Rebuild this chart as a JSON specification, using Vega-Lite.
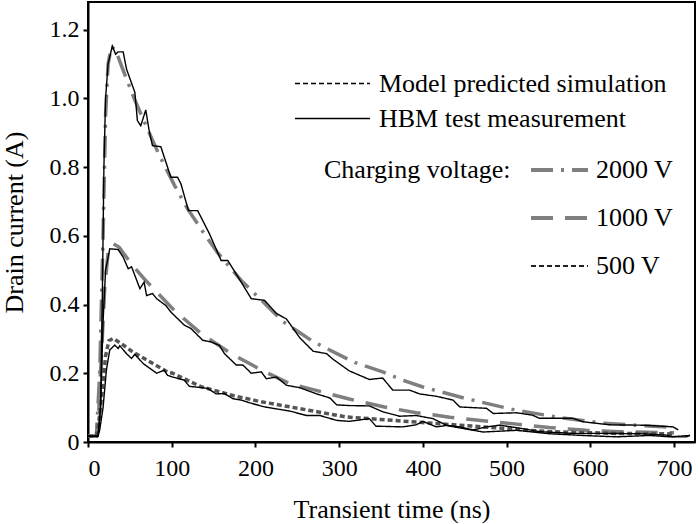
{
  "$schema": "https://vega.github.io/schema/vega-lite/v6.json",
  "width": 607,
  "height": 440,
  "autosize": {"type": "none"},
  "padding": {"left": 88, "top": 2, "right": 5, "bottom": 82},
  "background": "white",
  "config": {
    "view": {"stroke": "black", "strokeWidth": 2},
    "axis": {
      "grid": false,
      "domainColor": "black",
      "domainWidth": 2,
      "tickColor": "black",
      "tickWidth": 2,
      "tickSize": 5,
      "labelFont": "Liberation Serif",
      "labelFontSize": 24,
      "labelColor": "black",
      "titleFont": "Liberation Serif",
      "titleFontSize": 26,
      "titleFontWeight": "normal",
      "titleColor": "black"
    },
    "legend": {
      "labelFont": "Liberation Serif",
      "labelFontSize": 26,
      "labelColor": "black",
      "labelLimit": 0,
      "titleLimit": 0,
      "titleFont": "Liberation Serif",
      "titleFontSize": 26,
      "titleFontWeight": "normal",
      "titleColor": "black",
      "rowPadding": 0,
      "padding": 0
    }
  },
  "datasets": {
    "curves": [
      {"t": 0, "i": 0.017, "v": "2000 V", "kind": "Model predicted simulation"},
      {"t": 10, "i": 0.017, "v": "2000 V", "kind": "Model predicted simulation"},
      {"t": 14, "i": 0.2, "v": "2000 V", "kind": "Model predicted simulation"},
      {"t": 18, "i": 0.6, "v": "2000 V", "kind": "Model predicted simulation"},
      {"t": 21, "i": 0.95, "v": "2000 V", "kind": "Model predicted simulation"},
      {"t": 24, "i": 1.1, "v": "2000 V", "kind": "Model predicted simulation"},
      {"t": 28, "i": 1.15, "v": "2000 V", "kind": "Model predicted simulation"},
      {"t": 33, "i": 1.14, "v": "2000 V", "kind": "Model predicted simulation"},
      {"t": 40, "i": 1.094, "v": "2000 V", "kind": "Model predicted simulation"},
      {"t": 55, "i": 1.0, "v": "2000 V", "kind": "Model predicted simulation"},
      {"t": 73, "i": 0.9, "v": "2000 V", "kind": "Model predicted simulation"},
      {"t": 85, "i": 0.835, "v": "2000 V", "kind": "Model predicted simulation"},
      {"t": 103, "i": 0.748, "v": "2000 V", "kind": "Model predicted simulation"},
      {"t": 119, "i": 0.678, "v": "2000 V", "kind": "Model predicted simulation"},
      {"t": 141, "i": 0.598, "v": "2000 V", "kind": "Model predicted simulation"},
      {"t": 155, "i": 0.55, "v": "2000 V", "kind": "Model predicted simulation"},
      {"t": 183, "i": 0.47, "v": "2000 V", "kind": "Model predicted simulation"},
      {"t": 201, "i": 0.427, "v": "2000 V", "kind": "Model predicted simulation"},
      {"t": 233, "i": 0.35, "v": "2000 V", "kind": "Model predicted simulation"},
      {"t": 253, "i": 0.318, "v": "2000 V", "kind": "Model predicted simulation"},
      {"t": 269, "i": 0.292, "v": "2000 V", "kind": "Model predicted simulation"},
      {"t": 308, "i": 0.244, "v": "2000 V", "kind": "Model predicted simulation"},
      {"t": 320, "i": 0.23, "v": "2000 V", "kind": "Model predicted simulation"},
      {"t": 352, "i": 0.204, "v": "2000 V", "kind": "Model predicted simulation"},
      {"t": 376, "i": 0.18, "v": "2000 V", "kind": "Model predicted simulation"},
      {"t": 400, "i": 0.16, "v": "2000 V", "kind": "Model predicted simulation"},
      {"t": 452, "i": 0.126, "v": "2000 V", "kind": "Model predicted simulation"},
      {"t": 512, "i": 0.092, "v": "2000 V", "kind": "Model predicted simulation"},
      {"t": 567, "i": 0.07, "v": "2000 V", "kind": "Model predicted simulation"},
      {"t": 615, "i": 0.055, "v": "2000 V", "kind": "Model predicted simulation"},
      {"t": 687, "i": 0.044, "v": "2000 V", "kind": "Model predicted simulation"},
      {"t": 700, "i": 0.043, "v": "2000 V", "kind": "Model predicted simulation"},

      {"t": 0, "i": 0.017, "v": "1000 V", "kind": "Model predicted simulation"},
      {"t": 10, "i": 0.017, "v": "1000 V", "kind": "Model predicted simulation"},
      {"t": 13, "i": 0.1, "v": "1000 V", "kind": "Model predicted simulation"},
      {"t": 17, "i": 0.3, "v": "1000 V", "kind": "Model predicted simulation"},
      {"t": 20, "i": 0.45, "v": "1000 V", "kind": "Model predicted simulation"},
      {"t": 24, "i": 0.55, "v": "1000 V", "kind": "Model predicted simulation"},
      {"t": 29, "i": 0.578, "v": "1000 V", "kind": "Model predicted simulation"},
      {"t": 37, "i": 0.567, "v": "1000 V", "kind": "Model predicted simulation"},
      {"t": 53, "i": 0.514, "v": "1000 V", "kind": "Model predicted simulation"},
      {"t": 67, "i": 0.475, "v": "1000 V", "kind": "Model predicted simulation"},
      {"t": 103, "i": 0.383, "v": "1000 V", "kind": "Model predicted simulation"},
      {"t": 135, "i": 0.316, "v": "1000 V", "kind": "Model predicted simulation"},
      {"t": 171, "i": 0.257, "v": "1000 V", "kind": "Model predicted simulation"},
      {"t": 209, "i": 0.207, "v": "1000 V", "kind": "Model predicted simulation"},
      {"t": 241, "i": 0.17, "v": "1000 V", "kind": "Model predicted simulation"},
      {"t": 312, "i": 0.125, "v": "1000 V", "kind": "Model predicted simulation"},
      {"t": 354, "i": 0.102, "v": "1000 V", "kind": "Model predicted simulation"},
      {"t": 392, "i": 0.085, "v": "1000 V", "kind": "Model predicted simulation"},
      {"t": 416, "i": 0.078, "v": "1000 V", "kind": "Model predicted simulation"},
      {"t": 432, "i": 0.072, "v": "1000 V", "kind": "Model predicted simulation"},
      {"t": 472, "i": 0.062, "v": "1000 V", "kind": "Model predicted simulation"},
      {"t": 512, "i": 0.052, "v": "1000 V", "kind": "Model predicted simulation"},
      {"t": 551, "i": 0.042, "v": "1000 V", "kind": "Model predicted simulation"},
      {"t": 595, "i": 0.034, "v": "1000 V", "kind": "Model predicted simulation"},
      {"t": 635, "i": 0.03, "v": "1000 V", "kind": "Model predicted simulation"},
      {"t": 679, "i": 0.028, "v": "1000 V", "kind": "Model predicted simulation"},
      {"t": 700, "i": 0.027, "v": "1000 V", "kind": "Model predicted simulation"},

      {"t": 0, "i": 0.017, "v": "500 V", "kind": "Model predicted simulation"},
      {"t": 10, "i": 0.017, "v": "500 V", "kind": "Model predicted simulation"},
      {"t": 13, "i": 0.06, "v": "500 V", "kind": "Model predicted simulation"},
      {"t": 17, "i": 0.15, "v": "500 V", "kind": "Model predicted simulation"},
      {"t": 21, "i": 0.25, "v": "500 V", "kind": "Model predicted simulation"},
      {"t": 25, "i": 0.295, "v": "500 V", "kind": "Model predicted simulation"},
      {"t": 30, "i": 0.301, "v": "500 V", "kind": "Model predicted simulation"},
      {"t": 40, "i": 0.286, "v": "500 V", "kind": "Model predicted simulation"},
      {"t": 54, "i": 0.261, "v": "500 V", "kind": "Model predicted simulation"},
      {"t": 60, "i": 0.253, "v": "500 V", "kind": "Model predicted simulation"},
      {"t": 95, "i": 0.204, "v": "500 V", "kind": "Model predicted simulation"},
      {"t": 101, "i": 0.2, "v": "500 V", "kind": "Model predicted simulation"},
      {"t": 135, "i": 0.161, "v": "500 V", "kind": "Model predicted simulation"},
      {"t": 175, "i": 0.134, "v": "500 V", "kind": "Model predicted simulation"},
      {"t": 207, "i": 0.117, "v": "500 V", "kind": "Model predicted simulation"},
      {"t": 253, "i": 0.097, "v": "500 V", "kind": "Model predicted simulation"},
      {"t": 308, "i": 0.073, "v": "500 V", "kind": "Model predicted simulation"},
      {"t": 392, "i": 0.058, "v": "500 V", "kind": "Model predicted simulation"},
      {"t": 472, "i": 0.044, "v": "500 V", "kind": "Model predicted simulation"},
      {"t": 551, "i": 0.03, "v": "500 V", "kind": "Model predicted simulation"},
      {"t": 631, "i": 0.025, "v": "500 V", "kind": "Model predicted simulation"},
      {"t": 691, "i": 0.024, "v": "500 V", "kind": "Model predicted simulation"},
      {"t": 700, "i": 0.023, "v": "500 V", "kind": "Model predicted simulation"},

      {"t": 0, "i": 0.017, "v": "2000 V", "kind": "HBM test measurement"},
      {"t": 12, "i": 0.017, "v": "2000 V", "kind": "HBM test measurement"},
      {"t": 15, "i": 0.1, "v": "2000 V", "kind": "HBM test measurement"},
      {"t": 17, "i": 0.4, "v": "2000 V", "kind": "HBM test measurement"},
      {"t": 19, "i": 0.8, "v": "2000 V", "kind": "HBM test measurement"},
      {"t": 21, "i": 1.0, "v": "2000 V", "kind": "HBM test measurement"},
      {"t": 24, "i": 1.1, "v": "2000 V", "kind": "HBM test measurement"},
      {"t": 29, "i": 1.152, "v": "2000 V", "kind": "HBM test measurement"},
      {"t": 33, "i": 1.128, "v": "2000 V", "kind": "HBM test measurement"},
      {"t": 36, "i": 1.135, "v": "2000 V", "kind": "HBM test measurement"},
      {"t": 42, "i": 1.135, "v": "2000 V", "kind": "HBM test measurement"},
      {"t": 46, "i": 1.085, "v": "2000 V", "kind": "HBM test measurement"},
      {"t": 56, "i": 1.017, "v": "2000 V", "kind": "HBM test measurement"},
      {"t": 59, "i": 0.935, "v": "2000 V", "kind": "HBM test measurement"},
      {"t": 63, "i": 0.92, "v": "2000 V", "kind": "HBM test measurement"},
      {"t": 69, "i": 0.966, "v": "2000 V", "kind": "HBM test measurement"},
      {"t": 73, "i": 0.906, "v": "2000 V", "kind": "HBM test measurement"},
      {"t": 77, "i": 0.862, "v": "2000 V", "kind": "HBM test measurement"},
      {"t": 87, "i": 0.859, "v": "2000 V", "kind": "HBM test measurement"},
      {"t": 99, "i": 0.77, "v": "2000 V", "kind": "HBM test measurement"},
      {"t": 107, "i": 0.77, "v": "2000 V", "kind": "HBM test measurement"},
      {"t": 111, "i": 0.751, "v": "2000 V", "kind": "HBM test measurement"},
      {"t": 120, "i": 0.673, "v": "2000 V", "kind": "HBM test measurement"},
      {"t": 131, "i": 0.673, "v": "2000 V", "kind": "HBM test measurement"},
      {"t": 145, "i": 0.606, "v": "2000 V", "kind": "HBM test measurement"},
      {"t": 159, "i": 0.528, "v": "2000 V", "kind": "HBM test measurement"},
      {"t": 167, "i": 0.528, "v": "2000 V", "kind": "HBM test measurement"},
      {"t": 183, "i": 0.465, "v": "2000 V", "kind": "HBM test measurement"},
      {"t": 195, "i": 0.417, "v": "2000 V", "kind": "HBM test measurement"},
      {"t": 211, "i": 0.412, "v": "2000 V", "kind": "HBM test measurement"},
      {"t": 225, "i": 0.374, "v": "2000 V", "kind": "HBM test measurement"},
      {"t": 237, "i": 0.358, "v": "2000 V", "kind": "HBM test measurement"},
      {"t": 253, "i": 0.303, "v": "2000 V", "kind": "HBM test measurement"},
      {"t": 269, "i": 0.264, "v": "2000 V", "kind": "HBM test measurement"},
      {"t": 285, "i": 0.257, "v": "2000 V", "kind": "HBM test measurement"},
      {"t": 292, "i": 0.242, "v": "2000 V", "kind": "HBM test measurement"},
      {"t": 312, "i": 0.207, "v": "2000 V", "kind": "HBM test measurement"},
      {"t": 336, "i": 0.182, "v": "2000 V", "kind": "HBM test measurement"},
      {"t": 352, "i": 0.186, "v": "2000 V", "kind": "HBM test measurement"},
      {"t": 364, "i": 0.151, "v": "2000 V", "kind": "HBM test measurement"},
      {"t": 384, "i": 0.151, "v": "2000 V", "kind": "HBM test measurement"},
      {"t": 396, "i": 0.14, "v": "2000 V", "kind": "HBM test measurement"},
      {"t": 416, "i": 0.133, "v": "2000 V", "kind": "HBM test measurement"},
      {"t": 436, "i": 0.122, "v": "2000 V", "kind": "HBM test measurement"},
      {"t": 444, "i": 0.102, "v": "2000 V", "kind": "HBM test measurement"},
      {"t": 476, "i": 0.098, "v": "2000 V", "kind": "HBM test measurement"},
      {"t": 484, "i": 0.083, "v": "2000 V", "kind": "HBM test measurement"},
      {"t": 512, "i": 0.085, "v": "2000 V", "kind": "HBM test measurement"},
      {"t": 531, "i": 0.078, "v": "2000 V", "kind": "HBM test measurement"},
      {"t": 539, "i": 0.069, "v": "2000 V", "kind": "HBM test measurement"},
      {"t": 579, "i": 0.069, "v": "2000 V", "kind": "HBM test measurement"},
      {"t": 591, "i": 0.059, "v": "2000 V", "kind": "HBM test measurement"},
      {"t": 623, "i": 0.05, "v": "2000 V", "kind": "HBM test measurement"},
      {"t": 659, "i": 0.049, "v": "2000 V", "kind": "HBM test measurement"},
      {"t": 671, "i": 0.048, "v": "2000 V", "kind": "HBM test measurement"},
      {"t": 699, "i": 0.044, "v": "2000 V", "kind": "HBM test measurement"},
      {"t": 705, "i": 0.035, "v": "2000 V", "kind": "HBM test measurement"},

      {"t": 0, "i": 0.017, "v": "1000 V", "kind": "HBM test measurement"},
      {"t": 12, "i": 0.017, "v": "1000 V", "kind": "HBM test measurement"},
      {"t": 15, "i": 0.1, "v": "1000 V", "kind": "HBM test measurement"},
      {"t": 18, "i": 0.35, "v": "1000 V", "kind": "HBM test measurement"},
      {"t": 21, "i": 0.5, "v": "1000 V", "kind": "HBM test measurement"},
      {"t": 26, "i": 0.562, "v": "1000 V", "kind": "HBM test measurement"},
      {"t": 36, "i": 0.56, "v": "1000 V", "kind": "HBM test measurement"},
      {"t": 42, "i": 0.538, "v": "1000 V", "kind": "HBM test measurement"},
      {"t": 48, "i": 0.504, "v": "1000 V", "kind": "HBM test measurement"},
      {"t": 52, "i": 0.51, "v": "1000 V", "kind": "HBM test measurement"},
      {"t": 62, "i": 0.446, "v": "1000 V", "kind": "HBM test measurement"},
      {"t": 67, "i": 0.465, "v": "1000 V", "kind": "HBM test measurement"},
      {"t": 70, "i": 0.426, "v": "1000 V", "kind": "HBM test measurement"},
      {"t": 77, "i": 0.432, "v": "1000 V", "kind": "HBM test measurement"},
      {"t": 82, "i": 0.417, "v": "1000 V", "kind": "HBM test measurement"},
      {"t": 93, "i": 0.397, "v": "1000 V", "kind": "HBM test measurement"},
      {"t": 99, "i": 0.378, "v": "1000 V", "kind": "HBM test measurement"},
      {"t": 115, "i": 0.34, "v": "1000 V", "kind": "HBM test measurement"},
      {"t": 123, "i": 0.33, "v": "1000 V", "kind": "HBM test measurement"},
      {"t": 137, "i": 0.296, "v": "1000 V", "kind": "HBM test measurement"},
      {"t": 147, "i": 0.291, "v": "1000 V", "kind": "HBM test measurement"},
      {"t": 157, "i": 0.281, "v": "1000 V", "kind": "HBM test measurement"},
      {"t": 163, "i": 0.257, "v": "1000 V", "kind": "HBM test measurement"},
      {"t": 177, "i": 0.224, "v": "1000 V", "kind": "HBM test measurement"},
      {"t": 185, "i": 0.224, "v": "1000 V", "kind": "HBM test measurement"},
      {"t": 195, "i": 0.2, "v": "1000 V", "kind": "HBM test measurement"},
      {"t": 207, "i": 0.204, "v": "1000 V", "kind": "HBM test measurement"},
      {"t": 213, "i": 0.184, "v": "1000 V", "kind": "HBM test measurement"},
      {"t": 225, "i": 0.189, "v": "1000 V", "kind": "HBM test measurement"},
      {"t": 237, "i": 0.165, "v": "1000 V", "kind": "HBM test measurement"},
      {"t": 253, "i": 0.158, "v": "1000 V", "kind": "HBM test measurement"},
      {"t": 273, "i": 0.14, "v": "1000 V", "kind": "HBM test measurement"},
      {"t": 289, "i": 0.128, "v": "1000 V", "kind": "HBM test measurement"},
      {"t": 297, "i": 0.108, "v": "1000 V", "kind": "HBM test measurement"},
      {"t": 312, "i": 0.106, "v": "1000 V", "kind": "HBM test measurement"},
      {"t": 336, "i": 0.105, "v": "1000 V", "kind": "HBM test measurement"},
      {"t": 352, "i": 0.088, "v": "1000 V", "kind": "HBM test measurement"},
      {"t": 372, "i": 0.075, "v": "1000 V", "kind": "HBM test measurement"},
      {"t": 392, "i": 0.077, "v": "1000 V", "kind": "HBM test measurement"},
      {"t": 412, "i": 0.068, "v": "1000 V", "kind": "HBM test measurement"},
      {"t": 428, "i": 0.049, "v": "1000 V", "kind": "HBM test measurement"},
      {"t": 444, "i": 0.044, "v": "1000 V", "kind": "HBM test measurement"},
      {"t": 460, "i": 0.035, "v": "1000 V", "kind": "HBM test measurement"},
      {"t": 476, "i": 0.044, "v": "1000 V", "kind": "HBM test measurement"},
      {"t": 492, "i": 0.049, "v": "1000 V", "kind": "HBM test measurement"},
      {"t": 516, "i": 0.04, "v": "1000 V", "kind": "HBM test measurement"},
      {"t": 540, "i": 0.03, "v": "1000 V", "kind": "HBM test measurement"},
      {"t": 580, "i": 0.025, "v": "1000 V", "kind": "HBM test measurement"},
      {"t": 620, "i": 0.025, "v": "1000 V", "kind": "HBM test measurement"},
      {"t": 660, "i": 0.024, "v": "1000 V", "kind": "HBM test measurement"},
      {"t": 691, "i": 0.02, "v": "1000 V", "kind": "HBM test measurement"},
      {"t": 699, "i": 0.015, "v": "1000 V", "kind": "HBM test measurement"},
      {"t": 715, "i": 0.015, "v": "1000 V", "kind": "HBM test measurement"},
      {"t": 719, "i": 0.02, "v": "1000 V", "kind": "HBM test measurement"},

      {"t": 0, "i": 0.017, "v": "500 V", "kind": "HBM test measurement"},
      {"t": 12, "i": 0.017, "v": "500 V", "kind": "HBM test measurement"},
      {"t": 14, "i": 0.035, "v": "500 V", "kind": "HBM test measurement"},
      {"t": 18, "i": 0.1, "v": "500 V", "kind": "HBM test measurement"},
      {"t": 22, "i": 0.21, "v": "500 V", "kind": "HBM test measurement"},
      {"t": 26, "i": 0.268, "v": "500 V", "kind": "HBM test measurement"},
      {"t": 32, "i": 0.282, "v": "500 V", "kind": "HBM test measurement"},
      {"t": 36, "i": 0.272, "v": "500 V", "kind": "HBM test measurement"},
      {"t": 38, "i": 0.28, "v": "500 V", "kind": "HBM test measurement"},
      {"t": 46, "i": 0.257, "v": "500 V", "kind": "HBM test measurement"},
      {"t": 52, "i": 0.243, "v": "500 V", "kind": "HBM test measurement"},
      {"t": 56, "i": 0.255, "v": "500 V", "kind": "HBM test measurement"},
      {"t": 66, "i": 0.228, "v": "500 V", "kind": "HBM test measurement"},
      {"t": 82, "i": 0.2, "v": "500 V", "kind": "HBM test measurement"},
      {"t": 91, "i": 0.209, "v": "500 V", "kind": "HBM test measurement"},
      {"t": 95, "i": 0.194, "v": "500 V", "kind": "HBM test measurement"},
      {"t": 101, "i": 0.189, "v": "500 V", "kind": "HBM test measurement"},
      {"t": 115, "i": 0.18, "v": "500 V", "kind": "HBM test measurement"},
      {"t": 121, "i": 0.162, "v": "500 V", "kind": "HBM test measurement"},
      {"t": 143, "i": 0.156, "v": "500 V", "kind": "HBM test measurement"},
      {"t": 153, "i": 0.14, "v": "500 V", "kind": "HBM test measurement"},
      {"t": 163, "i": 0.141, "v": "500 V", "kind": "HBM test measurement"},
      {"t": 173, "i": 0.126, "v": "500 V", "kind": "HBM test measurement"},
      {"t": 183, "i": 0.122, "v": "500 V", "kind": "HBM test measurement"},
      {"t": 193, "i": 0.114, "v": "500 V", "kind": "HBM test measurement"},
      {"t": 211, "i": 0.102, "v": "500 V", "kind": "HBM test measurement"},
      {"t": 241, "i": 0.09, "v": "500 V", "kind": "HBM test measurement"},
      {"t": 261, "i": 0.077, "v": "500 V", "kind": "HBM test measurement"},
      {"t": 277, "i": 0.077, "v": "500 V", "kind": "HBM test measurement"},
      {"t": 297, "i": 0.063, "v": "500 V", "kind": "HBM test measurement"},
      {"t": 312, "i": 0.06, "v": "500 V", "kind": "HBM test measurement"},
      {"t": 336, "i": 0.068, "v": "500 V", "kind": "HBM test measurement"},
      {"t": 344, "i": 0.046, "v": "500 V", "kind": "HBM test measurement"},
      {"t": 376, "i": 0.044, "v": "500 V", "kind": "HBM test measurement"},
      {"t": 392, "i": 0.05, "v": "500 V", "kind": "HBM test measurement"},
      {"t": 400, "i": 0.06, "v": "500 V", "kind": "HBM test measurement"},
      {"t": 416, "i": 0.044, "v": "500 V", "kind": "HBM test measurement"},
      {"t": 428, "i": 0.048, "v": "500 V", "kind": "HBM test measurement"},
      {"t": 472, "i": 0.029, "v": "500 V", "kind": "HBM test measurement"},
      {"t": 512, "i": 0.034, "v": "500 V", "kind": "HBM test measurement"},
      {"t": 551, "i": 0.024, "v": "500 V", "kind": "HBM test measurement"},
      {"t": 591, "i": 0.019, "v": "500 V", "kind": "HBM test measurement"},
      {"t": 631, "i": 0.015, "v": "500 V", "kind": "HBM test measurement"},
      {"t": 671, "i": 0.019, "v": "500 V", "kind": "HBM test measurement"},
      {"t": 695, "i": 0.015, "v": "500 V", "kind": "HBM test measurement"},
      {"t": 719, "i": 0.019, "v": "500 V", "kind": "HBM test measurement"}
    ]
  },
  "data": {"name": "curves"},
  "encoding": {
    "x": {
      "field": "t",
      "type": "quantitative",
      "scale": {"domain": [0, 725], "nice": false},
      "axis": {
        "title": "Transient time (ns)",
        "values": [0, 100, 200, 300, 400, 500, 600, 700],
        "labelPadding": 9,
        "titlePadding": 16
      }
    },
    "y": {
      "field": "i",
      "type": "quantitative",
      "scale": {"domain": [0, 1.28], "nice": false},
      "axis": {
        "title": "Drain current (A)",
        "values": [0, 0.2, 0.4, 0.6, 0.8, 1.0, 1.2],
        "labelExpr": "datum.value == 0 ? '0' : format(datum.value, '.1f')",
        "labelPadding": 4,
        "titlePadding": 22
      }
    }
  },
  "layer": [
    {
      "transform": [{"filter": "datum.kind == 'Model predicted simulation'"}],
      "mark": {"type": "line", "strokeWidth": 3.5, "strokeCap": "butt"},
      "encoding": {
        "color": {
          "field": "v",
          "type": "nominal",
          "scale": {"domain": ["2000 V", "1000 V", "500 V"], "range": ["#7f7f7f", "#7f7f7f", "#555555"]},
          "legend": null
        },
        "strokeDash": {
          "field": "v",
          "type": "nominal",
          "scale": {"domain": ["2000 V", "1000 V", "500 V"], "range": [[22, 8, 3, 8], [22, 12], [5, 3]]},
          "legend": {
            "title": "Charging voltage:",
            "titleOrient": "left",
            "titleAnchor": "start",
            "titleBaseline": "line-top",
            "titleLineHeight": 48,
            "titlePadding": 20,
            "orient": "none",
            "legendX": 236,
            "legendY": 144,
            "symbolType": "stroke",
            "symbolSize": 3249,
            "symbolStrokeWidth": 4,
            "symbolStrokeColor": "#7f7f7f",
            "clipHeight": 48,
            "labelOffset": 8,
            "encode": {
              "symbols": {
                "update": {
                  "x": {"value": 28.5},
                  "stroke": {"signal": "datum.value == '500 V' ? '#222222' : '#7f7f7f'"},
                  "strokeWidth": {"signal": "datum.value == '500 V' ? 2 : 4"}
                }
              },
              "labels": {
                "update": {
                  "x": {"value": 65}
                }
              }
            }
          }
        }
      }
    },
    {
      "transform": [{"filter": "datum.kind == 'HBM test measurement'"}],
      "mark": {"type": "line", "strokeWidth": 1.4, "color": "black"},
      "encoding": {
        "detail": {"field": "v", "type": "nominal"},
        "strokeDash": {
          "field": "kind",
          "type": "nominal",
          "scale": {"domain": ["Model predicted simulation", "HBM test measurement"], "range": [[5, 3], [1, 0]]},
          "legend": {
            "title": null,
            "orient": "none",
            "legendX": 206,
            "legendY": 64,
            "symbolType": "stroke",
            "symbolSize": 5625,
            "symbolStrokeColor": "black",
            "symbolStrokeWidth": 1.5,
            "clipHeight": 35,
            "labelOffset": 8
          }
        }
      }
    }
  ],
  "resolve": {"scale": {"strokeDash": "independent"}, "legend": {"strokeDash": "independent"}}
}
